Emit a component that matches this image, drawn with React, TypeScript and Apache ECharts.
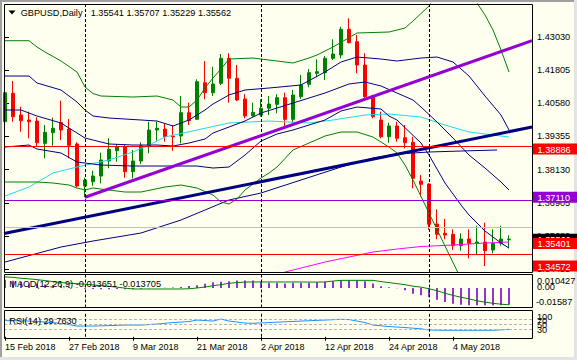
import React, { useEffect, useRef } from "react";
import * as echarts from "echarts";

// ---------- data ----------
const dates = [
  "2018-02-15","2018-02-16","2018-02-19","2018-02-20","2018-02-21","2018-02-22","2018-02-23","2018-02-26","2018-02-27","2018-02-28",
  "2018-03-01","2018-03-02","2018-03-05","2018-03-06","2018-03-07","2018-03-08","2018-03-09","2018-03-12","2018-03-13","2018-03-14",
  "2018-03-15","2018-03-16","2018-03-19","2018-03-20","2018-03-21","2018-03-22","2018-03-23","2018-03-26","2018-03-27","2018-03-28",
  "2018-03-29","2018-03-30","2018-04-02","2018-04-03","2018-04-04","2018-04-05","2018-04-06","2018-04-09","2018-04-10","2018-04-11",
  "2018-04-12","2018-04-13","2018-04-16","2018-04-17","2018-04-18","2018-04-19","2018-04-20","2018-04-23","2018-04-24","2018-04-25",
  "2018-04-26","2018-04-27","2018-04-30","2018-05-01","2018-05-02","2018-05-03","2018-05-04","2018-05-07","2018-05-08","2018-05-09",
  "2018-05-10","2018-05-11","2018-05-14","2018-05-15",
];

const open = [
  1.39897,1.40945,1.40144,1.39960,1.39923,1.39100,1.39491,1.39860,1.39628,1.39074,
  1.37525,1.37683,1.37894,1.38447,1.38827,1.38975,1.38052,1.38447,1.38975,1.39591,
  1.39628,1.39370,1.39370,1.40229,1.39986,1.41336,1.40967,1.41314,1.42237,1.41499,
  1.40735,1.40119,1.40144,1.40392,1.40539,1.40783,1.39986,1.40820,1.41277,1.41683,
  1.41705,1.42237,1.42359,1.43307,1.42849,1.41990,1.40857,1.39960,1.39344,1.39739,
  1.39307,1.39137,1.37709,1.37598,1.36122,1.35779,1.35742,1.35322,1.35569,1.35410,
  1.35458,1.35163,1.35410,1.35541,
];
const close = [
  1.40967,1.40082,1.39934,1.39897,1.39122,1.39506,1.39654,1.39591,1.39026,1.37525,
  1.37746,1.37894,1.38484,1.38879,1.38975,1.38052,1.38447,1.39012,1.39591,1.39654,
  1.39344,1.39344,1.40229,1.39934,1.41373,1.40967,1.41288,1.42237,1.41499,1.40698,
  1.40108,1.40244,1.40392,1.40550,1.40783,1.39986,1.40883,1.41252,1.41705,1.41742,
  1.42237,1.42395,1.43307,1.42812,1.41990,1.40820,1.40082,1.39344,1.39739,1.39285,
  1.39122,1.37809,1.37587,1.36111,1.35742,1.35717,1.35322,1.35569,1.35410,1.35458,
  1.35137,1.35410,1.35569,1.35562,
];
const high = [
  1.41030,1.41399,1.40451,1.40266,1.40060,1.39776,1.40045,1.40672,1.39997,1.39137,
  1.37831,1.38089,1.38753,1.39285,1.39074,1.39038,1.38853,1.39137,1.39897,1.39897,
  1.39812,1.39776,1.40846,1.40598,1.41462,1.42137,1.41927,1.42395,1.42421,1.41990,
  1.40908,1.40598,1.40724,1.40846,1.40908,1.40967,1.41067,1.41621,1.41842,1.42200,
  1.42322,1.42938,1.43403,1.43713,1.43097,1.42421,1.40883,1.40266,1.39860,1.39897,
  1.39776,1.39344,1.37931,1.37624,1.36665,1.36307,1.35927,1.35779,1.35927,1.36060,
  1.36170,1.35927,1.36060,1.35707,
];
const low = [
  1.39849,1.39897,1.39528,1.39285,1.38975,1.38547,1.39012,1.39222,1.38547,1.37480,
  1.37110,1.37536,1.37624,1.38178,1.38421,1.37831,1.37809,1.38336,1.38731,1.39196,
  1.39159,1.38827,1.39100,1.39776,1.39960,1.40724,1.40846,1.41252,1.40598,1.40664,
  1.40023,1.40082,1.40082,1.40144,1.40207,1.39654,1.39860,1.40735,1.41167,1.41536,
  1.41436,1.42174,1.42237,1.42790,1.41683,1.40672,1.40023,1.39285,1.39122,1.39159,
  1.38916,1.37440,1.37130,1.35901,1.35558,1.35558,1.35163,1.35137,1.34857,1.34979,
  1.34572,1.35041,1.35322,1.35229,
];

const tickIndex = [0, 8, 16, 24, 32, 40, 48, 56];
const tickLabels = ["15 Feb 2018","27 Feb 2018","9 Mar 2018","21 Mar 2018","2 Apr 2018","12 Apr 2018","24 Apr 2018","4 May 2018"];
const priceTicks = [1.43030, 1.41805, 1.40580, 1.39355, 1.38130, 1.36905, 1.35680, 1.34455];

// Bollinger bands (20, 1 and 2 deviations): [bar index, price]
const bbUpper2 = [[0,1.42886],[3,1.42886],[4,1.42653],[5,1.42469],[7,1.42137],[9,1.41731],[10,1.41177],[11,1.40937],[12,1.40845],[16,1.40808],[19,1.40845],[21,1.40698],[22,1.40439],[23,1.40439],[24,1.40698],[25,1.41140],[26,1.41509],[27,1.41842],[28,1.42210],[31,1.42247],[33,1.42174],[36,1.42063],[38,1.42247],[39,1.42358],[41,1.42653],[44,1.43170],[48,1.43207],[50,1.43354],[51,1.43613],[53,1.44166],[54,1.44683],[56,1.45126],[58,1.44757],[59,1.44277],[60,1.43834],[61,1.43281],[62,1.42543],[63,1.41731]];
const bbUpper1 = [[0,1.41583],[3,1.41583],[4,1.41325],[7,1.41067],[9,1.40624],[10,1.40329],[11,1.40107],[13,1.40033],[17,1.39960],[19,1.39923],[21,1.39738],[23,1.39960],[25,1.40329],[26,1.40550],[28,1.40882],[30,1.41067],[33,1.41140],[37,1.41251],[40,1.41731],[42,1.42100],[44,1.42284],[47,1.42210],[49,1.42137],[52,1.42247],[54,1.42284],[56,1.42100],[58,1.41583],[60,1.40845],[62,1.40144],[63,1.39591]];
const bbMiddle = [[0,1.40329],[2,1.40329],[4,1.40107],[7,1.39849],[9,1.39480],[10,1.39295],[13,1.39074],[16,1.39037],[19,1.39037],[21,1.39000],[23,1.39111],[25,1.39259],[26,1.39480],[28,1.39701],[30,1.39923],[32,1.40218],[34,1.40402],[36,1.40587],[38,1.40771],[40,1.40956],[43,1.41288],[45,1.41362],[47,1.41214],[49,1.40956],[51,1.40698],[52,1.40439],[54,1.39886],[56,1.39295],[58,1.38668],[60,1.38188],[62,1.37672],[63,1.37377]];
const bbLower1 = [[0,1.38963],[3,1.39037],[4,1.38890],[7,1.38742],[9,1.38410],[12,1.38299],[16,1.38262],[20,1.38262],[24,1.38262],[26,1.38188],[28,1.38225],[30,1.38668],[31,1.38926],[32,1.39185],[34,1.39443],[36,1.39591],[38,1.39775],[40,1.39960],[42,1.40292],[44,1.40439],[47,1.40366],[48,1.40107],[49,1.39960],[52,1.39111],[53,1.38668],[55,1.37635],[57,1.36823],[58,1.36454],[60,1.35864],[62,1.35421],[63,1.35236]];
const bbLower2 = [[0,1.37672],[4,1.37672],[6,1.37635],[8,1.37561],[9,1.37450],[10,1.37377],[11,1.37450],[13,1.37377],[15,1.37303],[17,1.37303],[20,1.37487],[22,1.37561],[24,1.37450],[26,1.37192],[27,1.36934],[28,1.36860],[29,1.37045],[30,1.37377],[31,1.37598],[32,1.37819],[33,1.38004],[34,1.38225],[36,1.38853],[38,1.39111],[40,1.39369],[42,1.39517],[44,1.39517],[46,1.39332],[48,1.38963],[49,1.38742],[50,1.38299],[51,1.37746],[53,1.36528],[55,1.35310],[57,1.34093],[58,1.33465]];

// moving averages
const maCyan = [[0,1.37155],[3,1.37487],[6,1.38004],[9,1.38225],[13,1.38484],[16,1.38779],[18,1.39037],[20,1.39332],[24,1.39591],[28,1.39849],[33,1.39923],[38,1.39849],[41,1.39960],[45,1.40144],[48,1.40181],[52,1.40070],[55,1.39775],[58,1.39517],[63,1.39332]];
const maMagenta = [[34,1.34203],[35,1.34351],[37,1.34498],[40,1.34720],[43,1.34904],[46,1.35089],[49,1.35199],[52,1.35292],[56,1.35347],[60,1.35421],[63,1.35458]];
const maNavy = [[0,1.34720],[7,1.35273],[11,1.35495],[17,1.35790],[22,1.36270],[28,1.37008],[32,1.37266],[37,1.37746],[42,1.38225],[46,1.38557],[49,1.38705],[53,1.38779],[57,1.38816],[61.5,1.38853]];

// trend lines [bar index, price]
const trendNavy = [[-0.125,1.35771],[65.875,1.39701]];
const trendPurple = [[10,1.37110],[65.875,1.42886]];

// horizontal levels
const bidPrice = 1.35562;
const levelPrices = [1.38886, 1.37110, 1.35401, 1.34572];
const levelKinds = ["red", "purple", "red", "red"];
const separators = [10, 32, 53];

// MACD (12,26,9)
const macdMain = [
  0.0065,0.0058,0.0050,0.0042,0.0034,0.0028,0.0022,0.0017,0.0010,0.0003,
  -0.0006,-0.0010,-0.0012,-0.0011,-0.0010,-0.0011,-0.0009,-0.0006,-0.0003,0.0000,
  0.0002,0.0004,0.0008,0.0016,0.0021,0.0033,0.0046,0.0049,0.0054,0.0060,
  0.0060,0.0060,0.0049,0.0041,0.0041,0.0035,0.0041,0.0041,0.0041,0.0046,
  0.0049,0.0054,0.0062,0.0062,0.0062,0.0054,0.0035,0.0014,0.0005,-0.0002,
  -0.0019,-0.0047,-0.0060,-0.0074,-0.0096,-0.0114,-0.0128,-0.0137,-0.0141,-0.0141,
  -0.0141,-0.0141,-0.0140,-0.013651,
];
const macdSignal = [
  0.0089,0.0085,0.0078,0.0073,0.0067,0.0059,0.0051,0.0043,0.0038,0.0034,
  0.0030,0.0024,0.0018,0.0012,0.0006,-0.0002,-0.0009,-0.0009,-0.0009,-0.0009,
  -0.0009,-0.0009,-0.0009,-0.0007,-0.0001,0.0007,0.0018,0.0026,0.0037,0.0043,
  0.0047,0.0048,0.0048,0.0048,0.0048,0.0048,0.0048,0.0048,0.0047,0.0047,
  0.0048,0.0055,0.0061,0.0061,0.0061,0.0061,0.0061,0.0051,0.0043,0.0034,
  0.0026,0.0014,0.0006,-0.0007,-0.0023,-0.0043,-0.0061,-0.0076,-0.0088,-0.0105,
  -0.0115,-0.0125,-0.0132,-0.013705,
];
const macdMax = 0.010427;
const macdMin = -0.01587;

// RSI(14) [bar index, value]
const rsi = [[0,65],[3,63],[6,57],[8,49],[9,43],[11,43],[13,45],[15,47],[17,47],[19,51],[21,57],[23,61],[24,67],[26,63],[27,71],[28,63],[30,55],[31,54],[33,57],[35,60],[37,63],[40,67],[42,70],[43,69],[44,63],[45,57],[46,47],[48,41],[50,37],[52,32],[53,27],[55,26],[58,26],[61,26],[63,29.763]];
const rsiLevels = [70, 50, 30];

// ---------- styling ----------
const FONT = "'Liberation Sans', Arial, sans-serif";
const BG = "#FFFFF0";
const X_MIN = -0.125;
const X_MAX = 65.875;
const Y_MIN = 1.343516;
const Y_MAX = 1.442403;
const boxColor: Record<string, string> = { red: "#FF0000", purple: "#9400D3" };

const sepLines = separators.map((s) => ({
  xAxis: s,
  lineStyle: { color: "#000", type: [3, 2], width: 1 },
  label: { show: false },
}));

const txt = (x: number, y: number, text: string, fill = "#000", size = 9.2, z = 100) => ({
  type: "text",
  x,
  y,
  z,
  silent: true,
  style: { text, fill, fontSize: size, fontFamily: FONT, verticalAlign: "middle", align: "left" },
});

function buildOption() {
  const lineS = (data: number[][], color: string, width = 1, z = 3) => ({
    type: "line",
    xAxisIndex: 0,
    yAxisIndex: 0,
    data,
    symbol: "none",
    silent: true,
    z,
    lineStyle: { color, width },
    itemStyle: { color },
  });

  const levelLine = (value: number, line: string) => ({
    yAxis: value,
    lineStyle: { color: line, type: "solid", width: 1 },
    label: { show: false },
  });

  return {
    animation: false,
    backgroundColor: BG,
    grid: [
      { left: 4, top: 4, width: 528, height: 268 },
      { left: 4, top: 275, width: 528, height: 32.5 },
      { left: 4, top: 311.8, width: 528, height: 25 },
    ],
    xAxis: [
      { type: "value", gridIndex: 0, min: X_MIN, max: X_MAX, show: false },
      { type: "value", gridIndex: 1, min: X_MIN, max: X_MAX, show: false },
      {
        type: "value",
        gridIndex: 2,
        min: X_MIN,
        max: X_MAX,
        position: "bottom",
        offset: 1.2,
        axisLine: { show: false },
        splitLine: { show: false },
        axisTick: { show: true, customValues: tickIndex, length: 4, lineStyle: { color: "#000" } },
        axisLabel: {
          customValues: tickIndex,
          formatter: (v: number) => {
            const k = tickIndex.indexOf(Math.round(v));
            return k >= 0 ? tickLabels[k] : "";
          },
          align: "left",
          margin: 4,
          fontSize: 9,
          fontFamily: FONT,
          color: "#000",
        },
      },
    ],
    yAxis: [
      {
        type: "value",
        gridIndex: 0,
        position: "right",
        min: Y_MIN,
        max: Y_MAX,
        axisLine: { show: false },
        splitLine: { show: false },
        axisTick: { show: true, customValues: priceTicks, length: 4, lineStyle: { color: "#000" } },
        axisLabel: {
          customValues: priceTicks,
          formatter: (v: number) => v.toFixed(5),
          margin: 5,
          fontSize: 9.2,
          fontFamily: FONT,
          color: "#000",
          padding: [3, 0, 0, 0],
        },
      },
      { type: "value", gridIndex: 1, min: macdMin, max: macdMax, show: false },
      { type: "value", gridIndex: 2, min: 0, max: 100, show: false },
    ],
    series: [
      {
        type: "candlestick",
        xAxisIndex: 0,
        yAxisIndex: 0,
        data: dates.map((d, i) => [i, open[i], close[i], low[i], high[i]]),
        barWidth: 4,
        silent: true,
        itemStyle: {
          color: "#008000",
          color0: "#FF0000",
          borderColor: "#008000",
          borderColor0: "#FF0000",
          borderWidth: 1,
        },
        markLine: {
          silent: true,
          symbol: "none",
          animation: false,
          data: [
            levelLine(bidPrice, "#C0C0C0"),
            ...levelPrices.map((p, k) => levelLine(p, boxColor[levelKinds[k]])),
            ...sepLines,
          ],
        },
      },
      lineS(maMagenta, "#FF00FF"),
      lineS(maCyan, "#1ED8F0"),
      lineS(maNavy, "#000080"),
      lineS(bbUpper2, "#008000"),
      lineS(bbLower2, "#008000"),
      lineS(bbUpper1, "#000080"),
      lineS(bbMiddle, "#000080"),
      lineS(bbLower1, "#000080"),
      lineS(trendNavy, "#000080", 3, 4),
      lineS(trendPurple, "#9400D3", 3, 4),
      {
        type: "bar",
        xAxisIndex: 1,
        yAxisIndex: 1,
        data: macdMain.map((v, i) => [i, v]),
        barWidth: 2,
        silent: true,
        itemStyle: { color: "#9932CC" },
        markLine: { silent: true, symbol: "none", animation: false, data: sepLines },
      },
      {
        type: "line",
        xAxisIndex: 1,
        yAxisIndex: 1,
        data: macdSignal.map((v, i) => [i, v]),
        symbol: "none",
        silent: true,
        lineStyle: { color: "#008000", width: 1 },
      },
      {
        type: "line",
        xAxisIndex: 2,
        yAxisIndex: 2,
        data: rsi,
        symbol: "none",
        silent: true,
        lineStyle: { color: "#1E90FF", width: 1 },
        markLine: {
          silent: true,
          symbol: "none",
          animation: false,
          data: [
            ...rsiLevels.map((l) => ({ yAxis: l, lineStyle: { color: "#B4B4B4", type: [3, 2], width: 1 }, label: { show: false } })),
            ...sepLines,
          ],
        },
      },
    ],
  };
}

function buildGraphic(toY: (p: number) => number) {
  const base: any[] = [
    { type: "rect", z: 100, silent: true, shape: { x: 4.5, y: 4.5, width: 528, height: 268 }, style: { fill: "none", stroke: "#000", lineWidth: 1 } },
    { type: "rect", z: 100, silent: true, shape: { x: 4.5, y: 274.5, width: 528, height: 33 }, style: { fill: "none", stroke: "#000", lineWidth: 1 } },
    { type: "rect", z: 100, silent: true, shape: { x: 4.5, y: 310.5, width: 528, height: 28 }, style: { fill: "none", stroke: "#000", lineWidth: 1 } },
    { type: "line", z: 100, silent: true, shape: { x1: 0, y1: 1, x2: 577, y2: 1 }, style: { stroke: "#A0A0A0", lineWidth: 2 } },
    { type: "line", z: 100, silent: true, shape: { x1: 1, y1: 0, x2: 1, y2: 360 }, style: { stroke: "#A0A0A0", lineWidth: 2 } },
    { type: "line", z: 100, silent: true, shape: { x1: 0, y1: 358.5, x2: 577, y2: 358.5 }, style: { stroke: "#E3E3E3", lineWidth: 3 } },
    { type: "line", z: 100, silent: true, shape: { x1: 575.5, y1: 0, x2: 575.5, y2: 360 }, style: { stroke: "#E3E3E3", lineWidth: 3 } },
    { type: "polygon", z: 100, silent: true, shape: { points: [[8.5, 10.5], [15.5, 10.5], [12, 14.5]] }, style: { fill: "#000" } },
    txt(20.7, 12.7, "GBPUSD,Daily"),
    txt(90.7, 12.7, "1.35541 1.35707 1.35229 1.35562"),
    txt(9.3, 284, "MACD(12,26,9) -0.013651 -0.013705"),
    txt(9.3, 321, "RSI(14) 29.7630"),
    txt(537, 281, "0.010427"),
    txt(537, 286.5, "0.00"),
    txt(536, 302, "-0.01587"),
    txt(537, 317, "100"),
    txt(537, 320.5, "70"),
    txt(537, 324.5, "50"),
    txt(537, 329.5, "30"),
  ];
  const boxes: { price: number; fill: string }[] = [
    { price: bidPrice, fill: "#000000" },
    ...levelPrices.map((p, k) => ({ price: p, fill: boxColor[levelKinds[k]] })),
  ];
  boxes.forEach((b, k) => {
    const y = toY(b.price);
    base.push({
      type: "rect",
      z: 110 + k * 2,
      silent: true,
      shape: { x: 533, y: y - 5.5, width: 44, height: 11 },
      style: { fill: b.fill },
    });
    base.push(txt(537.5, y + 0.5, b.price.toFixed(5), "#FFFFFF", 9.2, 111 + k * 2));
  });
  return base;
}

export default function App() {
  const ref = useRef<HTMLDivElement>(null);
  useEffect(() => {
    if (!ref.current) return;
    const chart = echarts.init(ref.current, null, { renderer: "svg" });
    chart.setOption(buildOption() as any);
    const toY = (p: number) => chart.convertToPixel({ yAxisIndex: 0 } as any, p) as number;
    chart.setOption({ graphic: buildGraphic(toY) } as any);
    return () => chart.dispose();
  }, []);
  return <div ref={ref} style={{ position: "absolute", left: 0, top: 0, width: 577, height: 360 }} />;
}
